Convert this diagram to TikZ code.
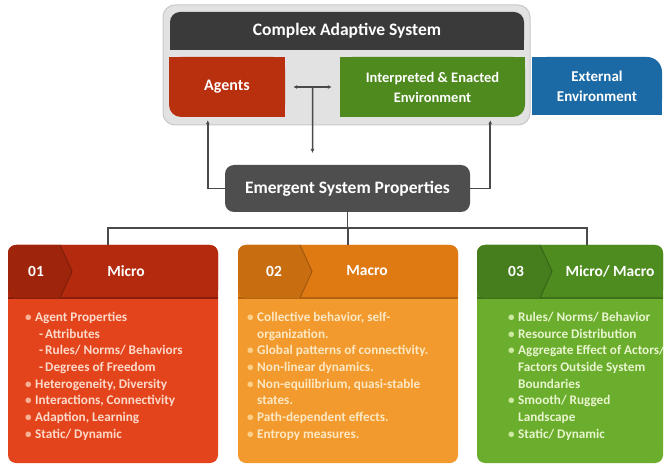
\documentclass[tikz,border=0pt]{standalone}
\usepackage{fontspec}
\setmainfont{Carlito}
\usetikzlibrary{arrows.meta,calc}
\definecolor{framefill}{HTML}{E2E2E2}
\definecolor{framedraw}{HTML}{C8C8C8}
\definecolor{cashdr}{HTML}{3A3A3A}
\definecolor{agentc}{HTML}{B9300F}
\definecolor{greenc}{HTML}{4F8A1F}
\definecolor{bluec}{HTML}{1B6AA6}
\definecolor{espc}{HTML}{4E4E4E}
\definecolor{connc}{HTML}{4A4A4A}
\definecolor{ahd}{HTML}{B32A0E}
\definecolor{abd}{HTML}{E4441B}
\definecolor{atx}{HTML}{FCDACB}
\definecolor{abl}{HTML}{F9B195}
\definecolor{bhd}{HTML}{DF7A12}
\definecolor{bbd}{HTML}{F29A2D}
\definecolor{btx}{HTML}{FDE8C4}
\definecolor{bbl}{HTML}{FCD088}
\definecolor{chd}{HTML}{4E8C20}
\definecolor{cbd}{HTML}{6BAD2C}
\definecolor{ctx}{HTML}{E8F5CF}
\definecolor{cbl}{HTML}{CBE89F}
\newcommand\cbul[1]{\makebox[10pt][l]{\textcolor{#1}{\textbullet}}}
\newcommand\cind{\hspace*{10pt}}
\newcommand\csub{\hspace*{14pt}-\hspace{2pt}}
\tikzset{
  box/.style={inner sep=0pt, align=center, text=white, font=\bfseries\fontsize{14.5}{20}\selectfont},
  conn/.style={draw=connc, line width=1.5pt},
  tip/.style={-{Latex[length=4pt,width=4pt]}},
  cardbody/.style={inner sep=0pt, rounded corners=8pt},
  cardtitle/.style={inner sep=0pt, text=white, font=\bfseries\fontsize{15.5}{17}\selectfont},
  itemlist/.style={anchor=north west, inner sep=0pt, align=left, font=\bfseries\fontsize{13.2}{16.7}\selectfont}
}
\begin{document}
\begin{tikzpicture}[x=1pt,y=-1pt]
\useasboundingbox (0,0) rectangle (666,470);
\fill[white] (0,0) rectangle (666,470);

% top frame
\node[fill=framefill, draw=framedraw, line width=1pt, rounded corners=12pt, minimum width=367pt, minimum height=120pt, inner sep=0pt] (casframe) at (346.5,65) {};

% dark header
\fill[cashdr] (170,38) rectangle (524,50);
\node[box, fill=cashdr, rounded corners=10pt, minimum width=354pt, minimum height=38pt, font=\bfseries\fontsize{17.5}{19}\selectfont] (cas) at (347,31) {Complex Adaptive System};

% agents
\fill[agentc] (169,57) rectangle (285,105);
\fill[agentc] (181,105) rectangle (285,117);
\node[box, fill=agentc, rounded corners=12pt, minimum width=116pt, minimum height=60pt, font=\bfseries\fontsize{16}{18}\selectfont] (agents) at (227,87) {Agents};

% interpreted & enacted environment
\fill[greenc] (340,57) rectangle (525,105);
\fill[greenc] (340,105) rectangle (513,117);
\node[box, fill=greenc, rounded corners=12pt, minimum width=185pt, minimum height=60pt] (green) at (432.5,87) {Interpreted \& Enacted\\Environment};

% external environment
\fill[bluec] (532,72) rectangle (662,115);
\fill[bluec] (532,57) rectangle (645,72);
\node[box, fill=bluec, rounded corners=15pt, minimum width=130pt, minimum height=58pt, font=\bfseries\fontsize{15}{20}\selectfont] (ext) at (597,86) {External\\Environment};

% emergent system properties
\node[box, fill=espc, rounded corners=9pt, minimum width=245pt, minimum height=47pt, font=\bfseries\fontsize{17.5}{19}\selectfont] (esp) at (347.5,188.5) {Emergent System Properties};

% connectors in the top part
\coordinate (mid) at ($(agents.east)!0.5!(green.west)$);
\coordinate (midend) at (312.5,153);
\draw[conn, {Latex[length=4pt,width=4pt]}-{Latex[length=4pt,width=4pt]}] ([xshift=8pt]agents.east) -- ([xshift=-8pt]green.west);
\draw[conn, tip] (mid) -- (midend);
\draw[conn, tip] (esp.west) -| ([xshift=39pt,yshift=-3pt]agents.south west);
\draw[conn, tip] (esp.east) -| ([xshift=-35pt,yshift=-3pt]green.south east);

% cards
\node[cardbody, fill=abd, minimum width=210pt, minimum height=218pt] (c1) at (113,354) {};
\node[cardbody, fill=bbd, minimum width=220pt, minimum height=218pt] (c2) at (348,354) {};
\node[cardbody, fill=cbd, minimum width=186pt, minimum height=218pt] (c3) at (570,354) {};

% card headers
\fill[ahd, rounded corners=8pt] (8,245) rectangle (218,298);
\fill[ahd] (8,288) rectangle (218,298);
\fill[bhd, rounded corners=8pt] (238,245) rectangle (458,298);
\fill[bhd] (238,288) rectangle (458,298);
\fill[chd, rounded corners=8pt] (477,245) rectangle (663,298);
\fill[chd] (477,288) rectangle (663,298);
\draw[ahd!75!black, line width=1.2pt] (8,298) -- (218,298);
\draw[bhd!80!black, line width=1.2pt] (238,298) -- (458,298);
\draw[chd!80!black, line width=1.2pt] (477,298) -- (663,298);

% chevrons
\begin{scope}
\clip[rounded corners=8pt] (8,245) rectangle (218,298);
\fill[ahd!88!black] (8,245) -- (60,245) -- (72,271.5) -- (60,298) -- (8,298) -- cycle;
\draw[ahd!70!black, line width=1pt] (60,245) -- (72,271.5) -- (60,298);
\end{scope}
\begin{scope}
\clip[rounded corners=8pt] (238,245) rectangle (458,298);
\fill[bhd!90!black] (238,245) -- (300,245) -- (312,271.5) -- (300,298) -- (238,298) -- cycle;
\draw[bhd!72!black, line width=1pt] (300,245) -- (312,271.5) -- (300,298);
\end{scope}
\begin{scope}
\clip[rounded corners=8pt] (477,245) rectangle (663,298);
\fill[chd!90!black] (477,245) -- (540,245) -- (552,271.5) -- (540,298) -- (477,298) -- cycle;
\draw[chd!72!black, line width=1pt] (540,245) -- (552,271.5) -- (540,298);
\end{scope}

% card titles
\node[cardtitle] (n1) at (36,271) {01};
\node[cardtitle] (t1) at (126,271) {Micro};
\node[cardtitle] (n2) at (274,271) {02};
\node[cardtitle] (t2) at (367,271) {Macro};
\node[cardtitle] (n3) at (516,271) {03};
\node[cardtitle] (t3) at (610,271) {Micro/ Macro};

% tree connectors
\coordinate (bus) at (347.5,228);
\draw[conn] (esp.south) -- (bus);
\draw[conn] ([xshift=-5pt]c1.north) |- (bus) -| ([xshift=17pt]c3.north);
\draw[conn] (c2.north) -- (c2.north |- bus);

% lists
\node[itemlist, text=atx] (l1) at (25,312) {%
\cbul{abl}Agent Properties\\
\csub Attributes\\
\csub Rules/ Norms/ Behaviors\\
\csub Degrees of Freedom\\
\cbul{abl}Heterogeneity, Diversity\\
\cbul{abl}Interactions, Connectivity\\
\cbul{abl}Adaption, Learning\\
\cbul{abl}Static/ Dynamic};

\node[itemlist, text=btx] (l2) at (247,312) {%
\cbul{bbl}Collective behavior, self-\\
\cind organization.\\
\cbul{bbl}Global patterns of connectivity.\\
\cbul{bbl}Non-linear dynamics.\\
\cbul{bbl}Non-equilibrium, quasi-stable\\
\cind states.\\
\cbul{bbl}Path-dependent effects.\\
\cbul{bbl}Entropy measures.};

\node[itemlist, text=ctx] (l3) at (508,312) {%
\cbul{cbl}Rules/ Norms/ Behavior\\
\cbul{cbl}Resource Distribution\\
\cbul{cbl}Aggregate Effect of Actors/\\
\cind Factors Outside System\\
\cind Boundaries\\
\cbul{cbl}Smooth/ Rugged\\
\cind Landscape\\
\cbul{cbl}Static/ Dynamic};
\end{tikzpicture}
\end{document}
